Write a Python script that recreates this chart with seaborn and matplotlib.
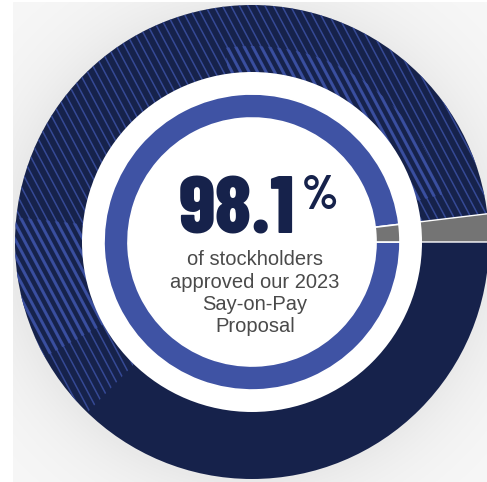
import numpy as np
import matplotlib
matplotlib.use("Agg")
import matplotlib.pyplot as plt
import seaborn as sns
from matplotlib.patches import Wedge, Circle
from matplotlib.collections import LineCollection
from matplotlib import font_manager

# ---- data ----
vote_labels = ["For", "Against"]
vote_values = [98.1, 1.9]
headline_value = "98.1"
headline_unit = "%"
caption_lines = ["of stockholders", "approved our 2023", "Say-on-Pay", "Proposal"]

# ---- style ----
sns.set_theme(style="white")
palette = sns.color_palette(["#3F53A4", "#747474"])
navy = "#16224B"
stripe_blue = "#3B50A2"
text_gray = "#4A4A4A"

names = {f.name for f in font_manager.fontManager.ttflist}
narrow = next((n for n in ["Barlow Condensed", "Roboto Condensed", "Fira Sans Condensed",
                           "Liberation Sans Narrow"] if n in names), "DejaVu Sans")
body = "Liberation Sans" if "Liberation Sans" in names else "DejaVu Sans"
plt.rcParams["font.family"] = [body, "DejaVu Sans"]

W, H = 487, 482
fig = plt.figure(figsize=(W / 100, H / 100), dpi=100)
ax = fig.add_axes([0, 0, 1, 1])
ax.set_axis_off()

cx, cy = 252, 240
R_out, R_white, R_pie, pie_w = 237, 170, 148, 24

# background with soft shadow
yy, xx = np.mgrid[0:H, 0:W]
d = np.hypot(xx + 0.5 - (cx - 3), (H - yy - 0.5) - (cy - 3))
bg = 0.975 - 0.06 * np.exp(-np.clip(d - R_out, 0, None) / 45.0)
bg[:, :13] = 1.0
bg[:2, :] = 1.0
ax.imshow(np.dstack([bg, bg, bg]), extent=(0, W, 0, H), origin="upper", zorder=0)

# outer navy disc
ax.add_patch(Circle((cx, cy), R_out, facecolor=navy, edgecolor="none", zorder=1))

# decorative stripes
phi = np.deg2rad(-62)
offs = np.arange(-400, 900, 8.5)
segs = [[(x0 - 500 * np.cos(phi), cy - 500 * np.sin(phi)),
         (x0 + 500 * np.cos(phi), cy + 500 * np.sin(phi))] for x0 in offs]

start_ang = vote_values[1] / sum(vote_values) * 360
thin_clip = Wedge((cx, cy), R_out, start_ang, 226, transform=ax.transData)
lc = LineCollection(segs, colors=stripe_blue, linewidths=1.1, alpha=0.85, zorder=2)
ax.add_collection(lc)
lc.set_clip_path(thin_clip)

for (r, a0, a1, w) in [(196, 14, 98, 30), (R_out, 174, 209, 70)]:
    clip = Wedge((cx, cy), r, a0, a1, width=w, transform=ax.transData)
    lct = LineCollection(segs, colors=stripe_blue, linewidths=2.2, alpha=0.9, zorder=2.5)
    ax.add_collection(lct)
    lct.set_clip_path(clip)

# outer grey extension of the "against" slice
ax.add_patch(Wedge((cx, cy), 420, 0, start_ang, width=420 - R_white + 5,
                   facecolor=palette[1], edgecolor="white", linewidth=1.0, zorder=3))

# white centre
ax.add_patch(Circle((cx, cy), R_white, facecolor="white", edgecolor="none", zorder=4))

# donut
wedges, _ = ax.pie(vote_values, colors=palette, startangle=start_ang, counterclock=True,
                   center=(cx, cy), radius=R_pie,
                   wedgeprops=dict(width=pie_w, edgecolor="white", linewidth=1.2))
for w_ in wedges:
    w_.set_zorder(5)

ax.set_xlim(0, W)
ax.set_ylim(0, H)
ax.set_aspect("equal")

# text
t_num = ax.text(179, H - 233, headline_value, fontsize=59, fontweight=800, color=navy,
                family=[narrow, "DejaVu Sans"], ha="left", va="baseline", zorder=6)
renderer = fig.canvas.get_renderer()
bb = t_num.get_window_extent(renderer)
x_right = ax.transData.inverted().transform((bb.x1, bb.y1))[0]
ax.text(x_right + 6, H - 209, headline_unit, fontsize=34, fontweight=700, color=navy,
        family=[narrow, "DejaVu Sans"], ha="left", va="baseline", zorder=6)
baselines = [265, 287.5, 310, 332]
for line, b in zip(caption_lines, baselines):
    ax.text(255, H - b, line, fontsize=14.5, color=text_gray, ha="center",
            va="baseline", zorder=6)

fig.savefig("out.png", dpi=100)
